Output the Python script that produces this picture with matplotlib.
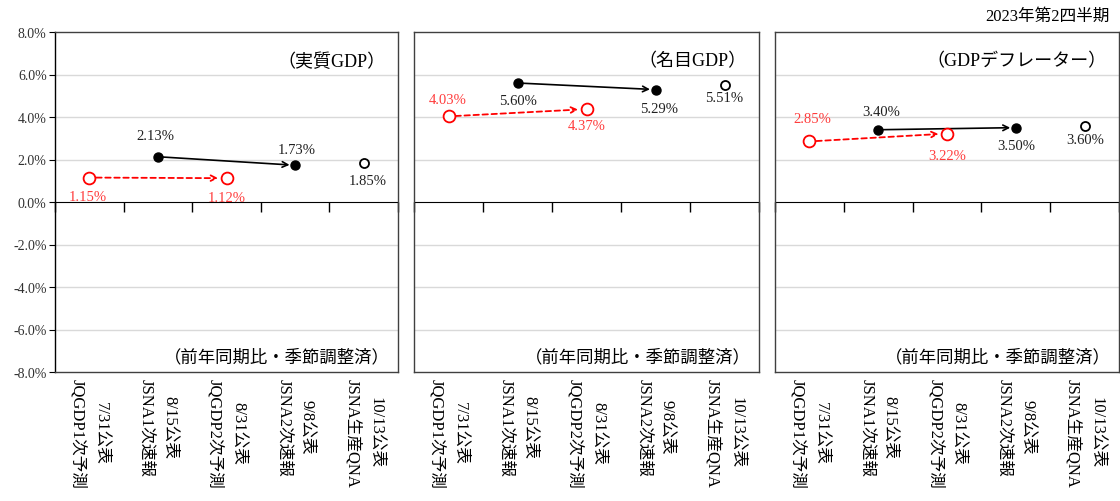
import matplotlib.pyplot as plt
import numpy as np
from matplotlib.ticker import FuncFormatter

plt.rcParams['font.family'] = ['Liberation Serif', 'Noto Sans CJK JP']

# data (%)
categories = ['7/31公表\nJQGDP1次予測', '8/15公表\nJSNA1次速報', '8/31公表\nJQGDP2次予測',
              '9/8公表\nJSNA2次速報', '10/13公表\nJSNA生産QNA']
titles = ['（実質GDP）', '（名目GDP）', '（GDPデフレーター）']
real_gdp = [1.15, 2.13, 1.12, 1.73, 1.85]
nominal_gdp = [4.03, 5.60, 4.37, 5.29, 5.51]
deflator = [2.85, 3.40, 3.22, 3.50, 3.60]
series = [real_gdp, nominal_gdp, deflator]

# label offsets in pixels (dx, dy) for each point, per panel
label_offsets = [
    [(-2, -19), (-3, 21), (0, -19), (2, 16), (4, -18)],
    [(-1, 17), (0, -18), (0, -16), (4, -19), (0, -13)],
    [(3, 23), (3, 18), (0, -22), (0, -18), (1, -14)],
]

red = '#ff0000'
red_txt = '#ff3c3c'

fig = plt.figure(figsize=(11.2, 5.02), dpi=100)
lefts = [55, 414, 775]
widths = [343, 345, 344]
x = np.arange(len(categories)) + 0.5

for i, vals in enumerate(series):
    ax = fig.add_axes([lefts[i] / 1120, (502 - 373) / 502, widths[i] / 1120, 340 / 502])
    ax.set_xlim(0, 5)
    ax.set_ylim(-8, 8)
    for yv in [-6, -4, -2, 2, 4, 6]:
        ax.axhline(yv, color='#d9d9d9', lw=1, zorder=0)
    for s in ax.spines.values():
        s.set_color('#404040')
        s.set_linewidth(1)

    # y axis
    ax.set_yticks(np.arange(-8, 9, 2))
    if i == 0:
        ax.spines['left'].set_color('black')
        ax.yaxis.set_major_formatter(FuncFormatter(lambda v, p: f'{v:.1f}%'))
        ax.tick_params(axis='y', length=4, labelsize=10, pad=2, labelcolor='#303030')
    else:
        ax.tick_params(axis='y', length=0, labelleft=False)

    # category labels at the bottom
    ax.set_xticks(x)
    ax.set_xticklabels(categories, rotation=270, fontsize=12, va='top', ha='center',
                       multialignment='center', linespacing=1.6)
    ax.tick_params(axis='x', length=0, pad=4)

    # zero line with category boundary ticks
    sec = ax.secondary_xaxis(0.5)
    sec.set_xticks(np.arange(0, 6))
    sec.set_xticklabels([])
    sec.tick_params(axis='x', length=7, width=1, color='black', direction='in')
    sec.spines['bottom'].set_color('black')
    sec.spines['bottom'].set_linewidth(1)

    # arrows: JQGDP 1st -> 2nd (red dashed), JSNA 1st -> 2nd (black)
    ax.annotate('', xy=(x[2], vals[2]), xytext=(x[0], vals[0]),
                arrowprops=dict(arrowstyle='->', color=red, lw=1.3, linestyle=(0, (3, 2)),
                                shrinkA=5, shrinkB=6), zorder=2)
    ax.annotate('', xy=(x[3], vals[3]), xytext=(x[1], vals[1]),
                arrowprops=dict(arrowstyle='->', color='black', lw=1.2,
                                shrinkA=3, shrinkB=4), zorder=2)

    # markers
    ax.plot([x[0], x[2]], [vals[0], vals[2]], 'o', ms=8.5, mfc='white', mec=red, mew=1.3,
            ls='none', zorder=3)
    ax.plot([x[1], x[3]], [vals[1], vals[3]], 'o', ms=6.5, color='black', ls='none', zorder=3)
    ax.plot([x[4]], [vals[4]], 'o', ms=6.5, mfc='white', mec='black', mew=1.3, ls='none', zorder=3)

    # value labels
    for j, v in enumerate(vals):
        dx, dy = label_offsets[i][j]
        c = red_txt if j in (0, 2) else '#202020'
        ax.annotate(f'{v:.2f}%', (x[j], v), xytext=(dx, dy), textcoords='offset pixels',
                    ha='center', va='center', fontsize=10.5, color=c)

    ax.text(0.965, 0.915, titles[i], transform=ax.transAxes, ha='right', va='center',
            fontsize=13)
    ax.text(0.975, 0.045, '（前年同期比・季節調整済）', transform=ax.transAxes, ha='right',
            va='center', fontsize=12.5)

fig.text(1110 / 1120, 1 - 17 / 502, '2023年第2四半期', ha='right', va='center', fontsize=12)

fig.savefig('out.png', dpi=100)
